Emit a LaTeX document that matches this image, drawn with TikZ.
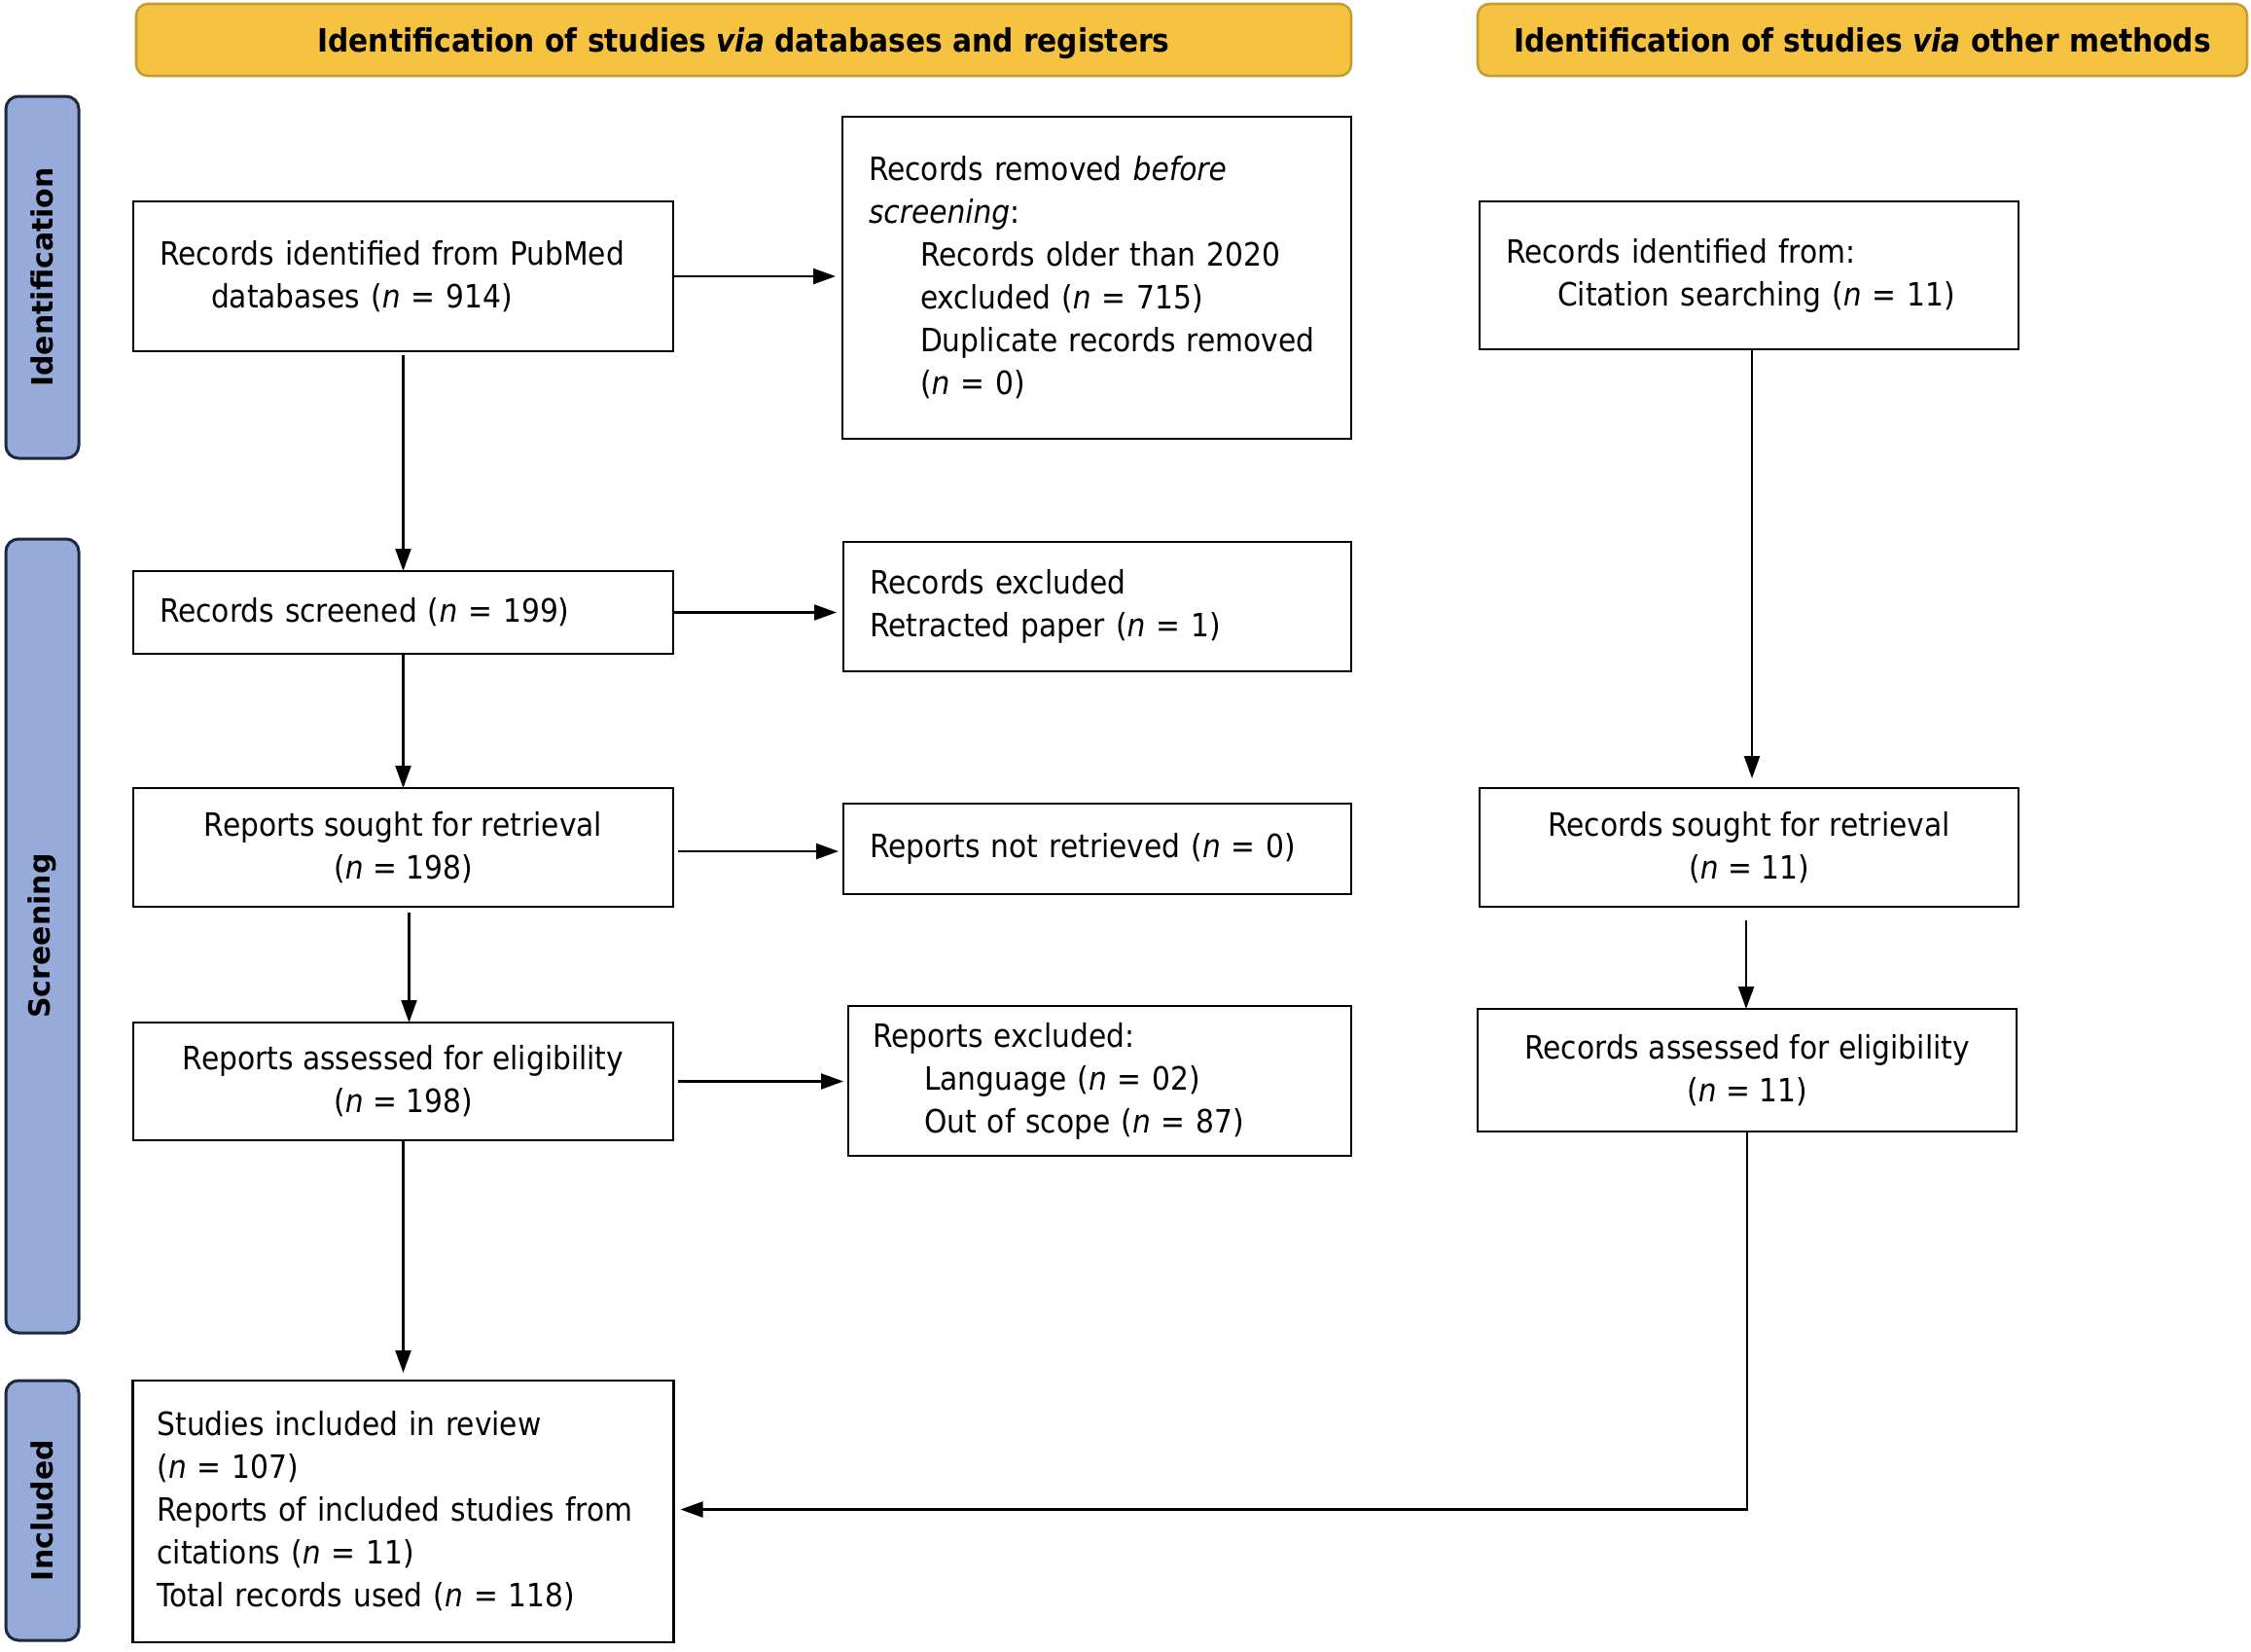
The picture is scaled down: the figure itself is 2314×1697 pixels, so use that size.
\documentclass[tikz,border=0pt]{standalone}
\usepackage{fontspec}
\setmainfont{DejaVu Sans}[FakeStretch=0.9]
\newfontfamily\phasefont{DejaVu Sans}
\usetikzlibrary{arrows.meta}
\definecolor{hdrfill}{RGB}{245,194,66}
\definecolor{hdrdraw}{RGB}{196,158,52}
\definecolor{phfill}{RGB}{151,171,219}
\definecolor{phdraw}{RGB}{30,40,62}
\newcommand{\myn}{\textit{n}}
\newcommand{\ind}{\hspace*{53pt}}
\begin{document}
\begin{tikzpicture}[x=1pt,y=-1pt,
  every node/.style={inner sep=0pt,outer sep=0pt},
  bodytxt/.style={font=\fontsize{33}{44}\selectfont},
  box/.style={draw=black,line width=2.6pt,rectangle,bodytxt},
  lbox/.style 2 args={box,minimum height=#2,text width=#1,align=left,inner xsep=27pt},
  cbox/.style 2 args={box,minimum width=#1,minimum height=#2,align=center},
  hdr/.style={draw=hdrdraw,fill=hdrfill,line width=2.6pt,rounded corners=12pt,minimum height=74pt,text height=24pt,text depth=0pt,font=\fontsize{33}{40}\selectfont\bfseries},
  phase/.style={draw=phdraw,fill=phfill,line width=3pt,rounded corners=13pt,minimum width=75pt},
  phtxt/.style={rotate=90,font=\phasefont\fontsize{30}{36}\selectfont\bfseries},
  arr/.style={line width=2.2pt,-{Triangle[length=23pt,width=16pt]}}
]
\useasboundingbox (0,0) rectangle (2314,1697);

% headers
\node[hdr,minimum width=1249pt] (h1) at (764.5,41) {Identification of studies \textit{via} databases and registers};
\node[hdr,minimum width=791pt] (h2) at (1914.5,41) {Identification of studies \textit{via} other methods};

% phase bars
\node[phase,minimum height=372pt] (p1) at (43.5,285) {};
\node[phtxt] (p1t) at (p1.center) {Identification};
\node[phase,minimum height=816pt] (p2) at (43.5,962) {};
\node[phtxt] (p2t) at (p2.center) {Screening};
\node[phase,minimum height=267pt] (p3) at (43.5,1552.5) {};
\node[phtxt] (p3t) at (p3.center) {Included};

% boxes
\node[lbox={501pt}{154pt}] (A) at (414.5,284) {Records identified from PubMed\\\ind databases (\myn{} = 914)};
\node[lbox={469pt}{331pt}] (B) at (1127.5,285.5) {Records removed \textit{before}\\\textit{screening}:\\\ind Records older than 2020\\\ind excluded (\myn{} = 715)\\\ind Duplicate records removed\\\ind (\myn{} = 0)};
\node[lbox={500pt}{152pt}] (C) at (1798,283) {Records identified from:\\\ind Citation searching (\myn{} = 11)};
\node[lbox={501pt}{85pt}] (D) at (414.5,629.5) {Records screened (\myn{} = 199)};
\node[lbox={468pt}{133pt}] (E) at (1128,623.5) {Records excluded\\Retracted paper (\myn{} = 1)};
\node[cbox={555pt}{122pt}] (F) at (414.5,871) {Reports sought for retrieval\\(\myn{} = 198)};
\node[lbox={468pt}{93pt}] (G) at (1128,872.5) {Reports not retrieved (\myn{} = 0)};
\node[cbox={554pt}{122pt}] (H) at (1798,871) {Records sought for retrieval\\(\myn{} = 11)};
\node[cbox={555pt}{121pt}] (I) at (414.5,1111.5) {Reports assessed for eligibility\\(\myn{} = 198)};
\node[lbox={467pt}{154pt},inner xsep=25pt] (J) at (1130.5,1111) {Reports excluded:\\\ind Language (\myn{} = 02)\\\ind Out of scope (\myn{} = 87)};
\node[cbox={554pt}{126pt}] (K) at (1796,1100) {Records assessed for eligibility\\(\myn{} = 11)};
\node[lbox={506pt}{269pt},inner xsep=25pt] (L) at (414.5,1553.5) {Studies included in review\\(\myn{} = 107)\\Reports of included studies from\\citations (\myn{} = 11)\\Total records used (\myn{} = 118)};

% connectors
\draw[arr,shorten <=4pt] (A.south) -- (D.north);
\draw[arr,shorten >=7pt] (A.east) -- (A.east -| B.west);
\draw[arr,shorten >=7pt] (D.east) -- (D.east -| E.west);
\draw[arr] (D.south) -- (F.north);
\draw[arr,shorten <=5pt,shorten >=5pt] ([yshift=-4pt]F.east) -- ([yshift=-4pt]F.east -| G.west);
\draw[arr,shorten <=6pt] ([xshift=6pt]F.south) -- ([xshift=6pt]I.north);
\draw[arr,shorten <=5pt,shorten >=5pt] (I.east) -- (I.east -| J.west);
\draw[arr,shorten >=8pt] (I.south) -- (L.north);
\draw[arr,shorten >=10pt] ([xshift=3pt]C.south) -- ([xshift=3pt]C.south |- H.north);
\draw[arr,shorten <=14pt] ([xshift=-3pt]H.south) -- ([xshift=-1pt]K.north);
\draw[arr,shorten >=7pt] (K.south) |- ([yshift=2pt]L.east);
\end{tikzpicture}
\end{document}
